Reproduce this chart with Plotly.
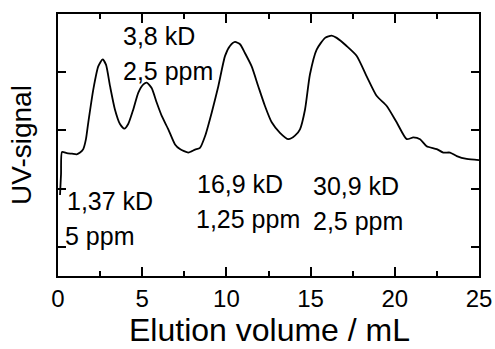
import plotly.graph_objects as go

# Elution volume (mL) and UV signal (arb. units) of the chromatogram
elution_ml = [0.12, 0.18, 0.24, 0.52, 0.83, 1.11, 1.31, 1.50, 1.66, 1.80, 2.10, 2.39,
              2.65, 2.85, 3.09, 3.38, 3.68, 3.94, 4.17, 4.47, 4.77, 5.07, 5.27, 5.56,
              5.86, 6.16, 6.55, 6.95, 7.24, 7.74, 8.14, 8.43, 8.73, 9.13, 9.52, 9.92,
              10.21, 10.51, 10.81, 11.10, 11.50, 11.89, 12.29, 12.69, 13.18, 13.68,
              14.07, 14.37, 14.67, 14.96, 15.36, 15.86, 16.25, 16.55, 17.14, 17.74,
              18.33, 18.93, 19.52, 20.11, 20.71, 21.10, 21.50, 21.89, 22.49, 22.88,
              23.28, 23.68, 24.27, 25.0]
uv_signal = [0.89, 1.25, 1.63, 1.61, 1.60, 1.59, 1.62, 1.68, 1.85, 2.14, 2.71, 3.10,
             3.22, 3.13, 2.76, 2.36, 2.11, 2.03, 2.11, 2.36, 2.65, 2.79, 2.82, 2.73,
             2.48, 2.25, 2.02, 1.76, 1.68, 1.62, 1.67, 1.70, 1.90, 2.31, 2.76, 3.28,
             3.45, 3.52, 3.48, 3.33, 3.10, 2.76, 2.42, 2.14, 1.96, 1.85, 1.91, 2.02,
             2.36, 2.96, 3.39, 3.59, 3.63, 3.59, 3.45, 3.28, 2.93, 2.59, 2.42, 2.14,
             1.85, 1.88, 1.85, 1.73, 1.68, 1.62, 1.62, 1.56, 1.51, 1.49]

# Peak labels: (text, x, y)
peak_labels = [
    ("3,8 kD", 3.75, 3.63),
    ("2,5 ppm", 3.75, 3.02),
    ("1,37 kD", 0.42, 0.79),
    ("5 ppm", 0.30, 0.19),
    ("16,9 kD", 8.15, 1.08),
    ("1,25 ppm", 8.05, 0.48),
    ("30,9 kD", 15.05, 1.04),
    ("2,5 ppm", 15.05, 0.45),
]

x_ticks = [0, 5, 10, 15, 20, 25]
y_ticks = [0, 1, 2, 3, 4]
x_title = "Elution volume / mL"
y_title = "UV-signal"

font_family = "Liberation Sans, Arial, sans-serif"

fig = go.Figure()
fig.add_trace(go.Scatter(
    x=elution_ml, y=uv_signal, mode="lines",
    line=dict(color="black", width=1.8, shape="spline", smoothing=0.6),
    hoverinfo="skip", showlegend=False,
))

for text, x, y in peak_labels:
    fig.add_annotation(
        x=x, y=y, xref="x", yref="y", text=text, showarrow=False,
        xanchor="left", yanchor="middle",
        font=dict(family=font_family, size=25, color="black"),
    )

# x-axis title, sitting on the bottom edge of the figure
fig.add_annotation(
    x=0.503, y=-0.278, xref="paper", yref="paper", text=x_title, showarrow=False,
    xanchor="center", yanchor="bottom", borderpad=0,
    font=dict(family=font_family, size=32, color="black"),
)

fig.update_layout(
    width=495, height=349,
    margin=dict(l=58, r=16, t=14, b=73, autoexpand=False),
    paper_bgcolor="white", plot_bgcolor="white",
    font=dict(family=font_family, color="black"),
    showlegend=False,
)

fig.update_xaxes(
    range=[0, 25], tickvals=x_ticks, ticktext=[str(v) for v in x_ticks],
    ticks="inside", ticklen=9, tickwidth=1.5, tickcolor="black",
    minor=dict(dtick=2.5, ticks="inside", ticklen=5, tickwidth=1.5, tickcolor="black"),
    showline=True, linecolor="black", linewidth=1.5, mirror="ticks",
    showgrid=False, zeroline=False, automargin=False,
    tickfont=dict(size=24, family=font_family),
)
fig.update_yaxes(
    range=[-0.5, 4], tickvals=y_ticks, showticklabels=False,
    ticks="inside", ticklen=8, tickwidth=1.5, tickcolor="black",
    showline=True, linecolor="black", linewidth=1.5, mirror="ticks",
    showgrid=False, zeroline=False, automargin=False,
    title=dict(text=y_title, font=dict(size=28, family=font_family), standoff=16),
)

fig.write_html("out.html")
